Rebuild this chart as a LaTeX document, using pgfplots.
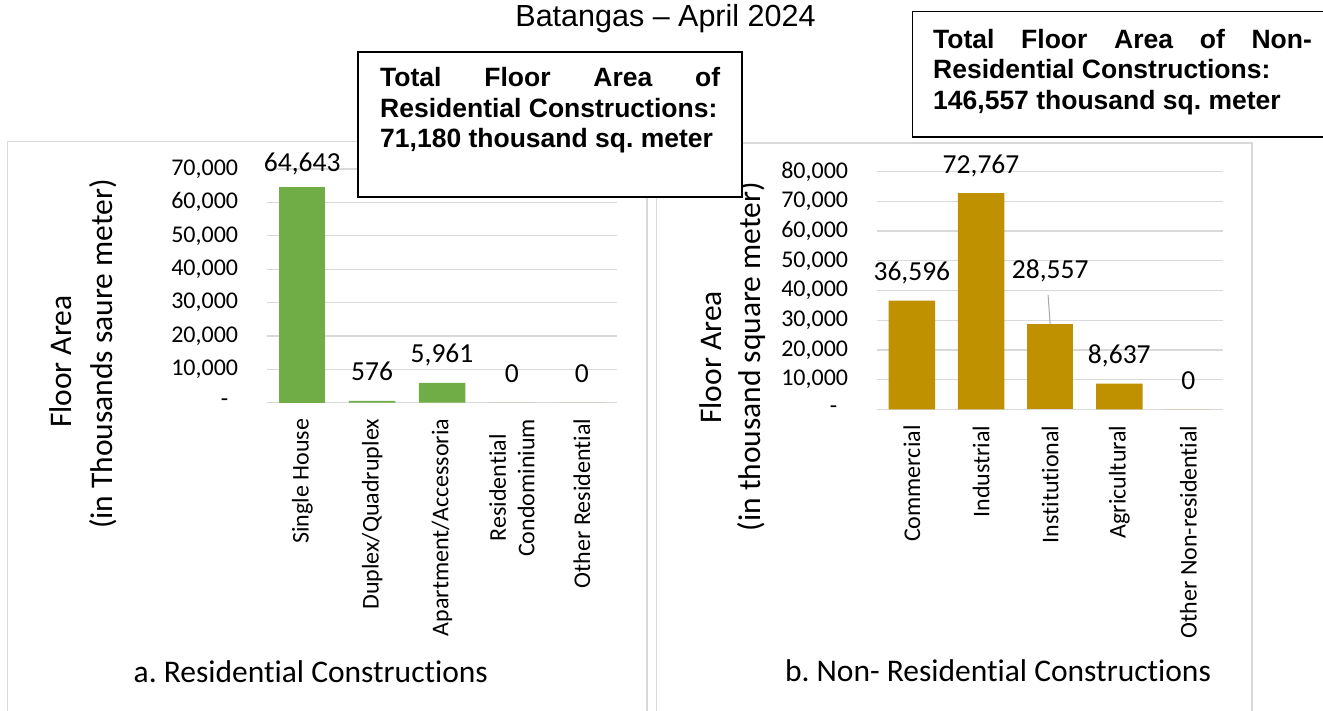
\documentclass[border=0pt]{standalone}
\usepackage{fontspec}
\setmainfont{Carlito}[Ligatures={NoCommon}]
\newfontfamily\arialfont{Liberation Sans}
\usepackage{pgfplots}
\pgfplotsset{compat=1.18}
\frenchspacing
\definecolor{gridgray}{HTML}{D9D9D9}
\definecolor{resgreen}{HTML}{70AD47}
\definecolor{nongold}{HTML}{BF9000}
\definecolor{leadergray}{HTML}{A6A6A6}
\pgfplotsset{
  panel/.style={
    scale only axis, clip=false,
    ybar, bar width=46.5pt, bar shift=0pt,
    xmin=-0.5, xmax=4.5, ymin=0,
    xtick={0,1,2,3,4},
    scaled y ticks=false,
    axis line style={draw=none},
    major tick length=0pt,
    ymajorgrids, grid style={gridgray, line width=1.3pt},
    tick label style={font=\fontsize{24pt}{28.6pt}\selectfont, inner sep=0pt},
    yticklabel shift=29pt,
    xticklabel shift=16pt,
    xticklabel style={rotate=90, anchor=east, align=center},
    yticklabel style={anchor=east},
    nodes near coords, point meta=explicit symbolic,
    every node near coord/.append style={anchor=base, yshift=20pt, font=\fontsize{27.5pt}{33pt}\selectfont, inner sep=0pt, text=black},
  }
}
\begin{document}
\begin{tikzpicture}
\path[use as bounding box] (0pt,0pt) rectangle (1323pt,710pt);
% panel borders
\draw[gridgray, line width=1.5pt] (7.3pt,-5pt) -- (7.3pt,568.3pt) -- (647pt,568.3pt) -- (647pt,-5pt);
\draw[gridgray, line width=1.5pt] (656.7pt,-5pt) -- (656.7pt,567pt) -- (1252pt,567pt) -- (1252pt,-5pt);

% left chart
\begin{axis}[panel, at={(267.3pt,307.3pt)}, anchor=south west,
  width=349.4pt, height=233.7pt, ymax=70000,
  ytick={0,10000,20000,30000,40000,50000,60000,70000},
  yticklabels={{-\hspace*{10pt}},{10,000},{20,000},{30,000},{40,000},{50,000},{60,000},{70,000}},
  xticklabels={{Single House},{Duplex/Quadruplex},{Apartment/Accessoria},{Residential\\Condominium},{Other Residential}}]
\addplot[fill=resgreen, draw=none, bar shift=0pt, every node near coord/.append style={yshift=-5pt}] coordinates {(0,64643) [64,643]};
\addplot[fill=resgreen, draw=none, bar shift=0pt] coordinates {(1,576) [576] (2,5961) [5,961] (3,0) [0] (4,0) [0]};
\end{axis}

% right chart
\begin{axis}[panel, at={(877.3pt,300.7pt)}, anchor=south west,
  width=345.7pt, height=237.6pt, ymax=80000,
  ytick={0,10000,20000,30000,40000,50000,60000,70000,80000},
  yticklabels={{-\hspace*{11pt}},{10,000},{20,000},{30,000},{40,000},{50,000},{60,000},{70,000},{80,000}},
  xticklabels={{Commercial},{Industrial},{Institutional},{Agricultural},{Other Non-residential}}]
\addplot[fill=nongold, draw=none, bar shift=0pt] coordinates {(0,36596) [36,596] (1,72767) [72,767] (3,8637) [8,637] (4,0) [0]};
\addplot[fill=nongold, draw=none, bar shift=0pt, every node near coord/.append style={yshift=26pt}] coordinates {(2,28557) [28,557]};
\draw[leadergray, line width=1pt] (axis cs:1.97,38480) -- (axis cs:2,28557);
\end{axis}

% axis titles
\node[rotate=90, anchor=base, inner sep=0pt, font=\fontsize{31.5pt}{38pt}\selectfont] at (71.7pt,348.3pt) {Floor Area};
\node[rotate=90, anchor=base, inner sep=0pt, font=\fontsize{31.5pt}{38pt}\selectfont] at (112.5pt,356pt) {(in Thousands saure meter)};
\node[rotate=90, anchor=base, inner sep=0pt, font=\fontsize{31.5pt}{38pt}\selectfont] at (721pt,352.5pt) {Floor Area};
\node[rotate=90, anchor=base, inner sep=0pt, font=\fontsize{31.5pt}{38pt}\selectfont] at (760pt,353.3pt) {(in thousand square meter)};

\node[anchor=base, inner sep=0pt, font=\fontsize{31.5pt}{38pt}\selectfont] at (310.8pt,27.3pt) {a. Residential Constructions};
\node[anchor=base, inner sep=0pt, font=\fontsize{31.5pt}{38pt}\selectfont] at (998pt,28.3pt) {b. Non- Residential Constructions};

% boxes
\draw[black, line width=1.5pt, fill=white] (358pt,513pt) rectangle (742pt,658pt);
\node[anchor=base west, inner sep=0pt] at (380pt,623pt) {\parbox[t]{340pt}{\arialfont\bfseries\fontsize{26.5pt}{30.5pt}\selectfont\parindent=0pt
Total Floor Area of\linebreak Residential Constructions:\\ 71,180 thousand sq. meter}};

\draw[black, line width=1.5pt, fill=white] (912.7pt,573pt) rectangle (1324pt,698.3pt);
\node[anchor=base west, inner sep=0pt] at (933pt,661.7pt) {\parbox[t]{378.7pt}{\arialfont\bfseries\fontsize{26.5pt}{30.5pt}\selectfont\parindent=0pt
Total Floor Area of Non-\linebreak Residential Constructions:\\ 146,557 thousand sq. meter}};

% title
\node[anchor=base, inner sep=0pt] at (665.5pt,683.5pt) {\arialfont\fontsize{30.5pt}{36pt}\selectfont Batangas – April 2024};
\end{tikzpicture}
\end{document}
